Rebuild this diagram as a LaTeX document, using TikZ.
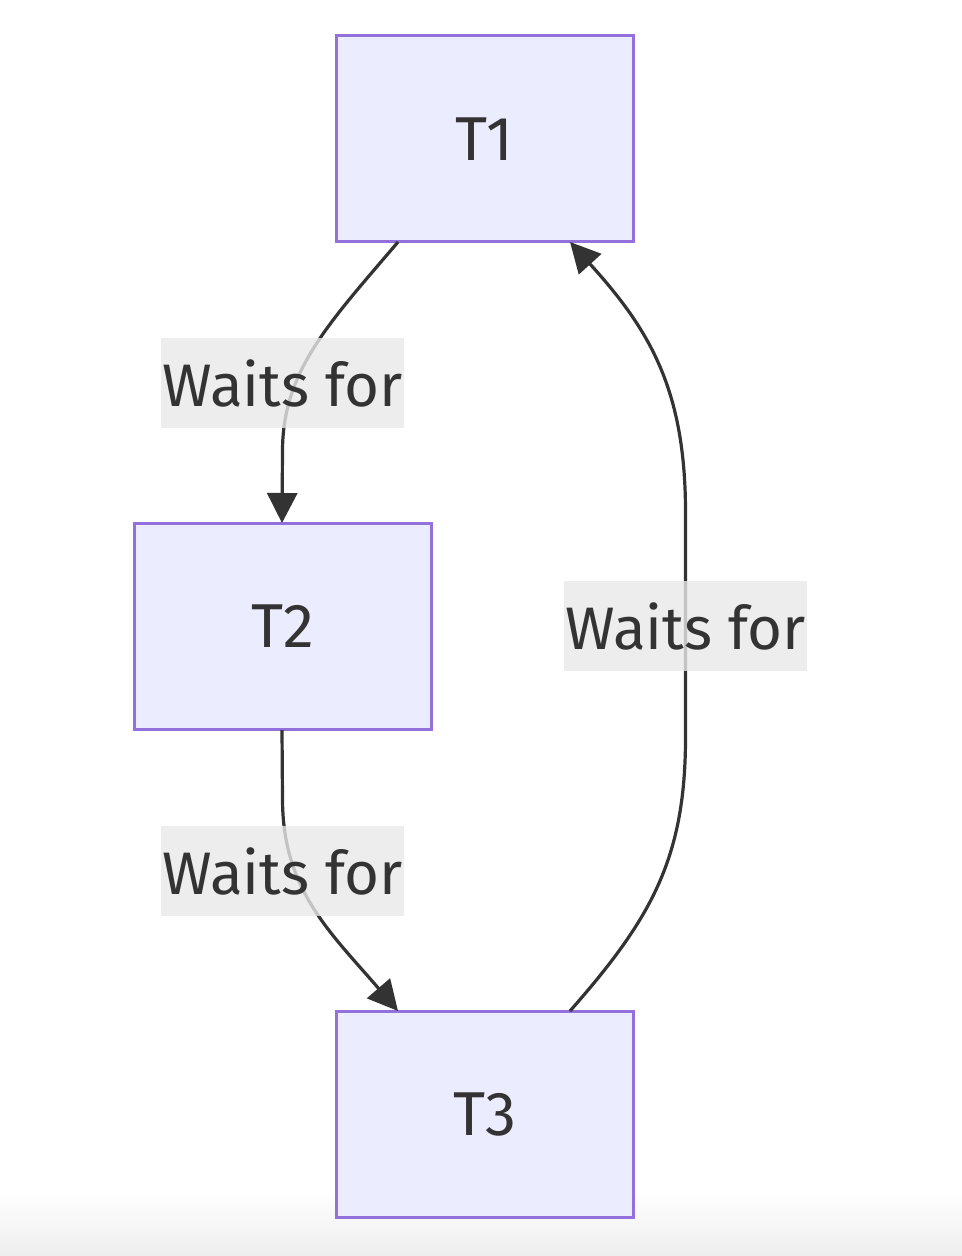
\documentclass[tikz,border=0pt]{standalone}
\usepackage{fontspec}
\setmainfont{Fira Sans}
\usetikzlibrary{arrows.meta}
\definecolor{nodefill}{HTML}{ECECFF}
\definecolor{nodeborder}{HTML}{9370DB}
\definecolor{ink}{HTML}{333333}
\definecolor{lblbg}{HTML}{E8E8E8}
\definecolor{shade}{HTML}{EEEEEE}
\tikzset{
  stepbox/.style={draw=nodeborder, fill=nodefill, line width=1.5pt,
    minimum width=148.5pt, minimum height=103pt, inner sep=0pt,
    text=ink, font=\fontsize{31}{36}\selectfont},
  edgelbl/.style={fill=lblbg, fill opacity=0.8, text opacity=1, text=ink,
    minimum width=121.5pt, minimum height=45pt, inner sep=0pt,
    font=\fontsize{30}{36}\selectfont},
  waitarrow/.style={draw=ink, line width=1.6pt,
    -{Triangle[length=15pt, width=15pt]}}
}
\begin{document}
\begin{tikzpicture}[x=0.5pt, y=-0.5pt]
  \useasboundingbox (0,0) rectangle (962,1256);
  \shade[top color=white, bottom color=shade] (0,1190) rectangle (962,1256);

  \node[stepbox] (T1) at (484.5,139) {T1};
  \node[stepbox] (T2) at (282.5,626.5) {T2};
  \node[stepbox] (T3) at (484.5,1114) {T3};

  \coordinate (a1) at (398,242);
  \coordinate (a2) at (282,523);
  \coordinate (b1) at (282,730);
  \coordinate (b2) at (398,1011);
  \coordinate (c1) at (570,1011);
  \coordinate (c2) at (570,242);

  \draw[waitarrow] (a1) .. controls (330,322) and (283,370) .. (282.5,450) -- (a2);
  \draw[waitarrow] (b1) -- (282.5,800) .. controls (283,890) and (330,932) .. (b2);
  \draw[waitarrow] (c1) .. controls (650,920) and (685,860) .. (685.5,740)
     -- (685.5,510) .. controls (685,390) and (650,330) .. (c2);

  \node[edgelbl] (L1) at (282.5,383) {Waits for};
  \node[edgelbl] (L2) at (282.5,871) {Waits for};
  \node[edgelbl] (L3) at (685.5,626) {Waits for};
\end{tikzpicture}
\end{document}
